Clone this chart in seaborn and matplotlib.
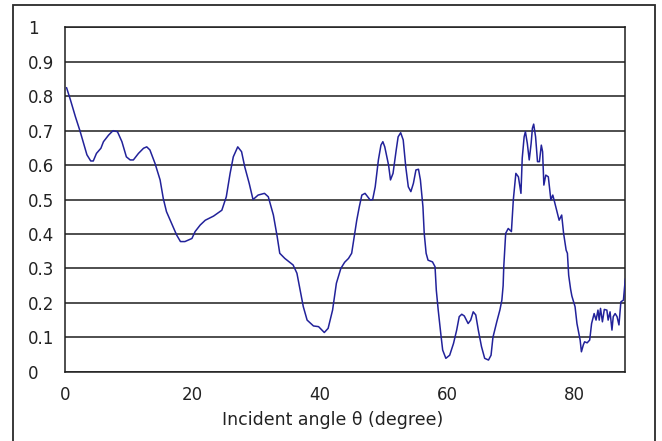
import numpy as np
import pandas as pd
import matplotlib
matplotlib.use("Agg")
import matplotlib.pyplot as plt
from matplotlib.patches import Rectangle
import seaborn as sns

# Reflectance versus incident angle
theta = [
    0.2, 0.8, 1.6, 2.3, 2.8, 3.4, 4.0, 4.4, 4.9, 5.6, 6.0, 6.8, 7.5, 8.2, 8.9,
    9.6, 10.2, 10.7, 11.5, 12.3, 12.8, 13.3, 14.1, 14.9, 15.4, 15.9, 16.7, 17.5,
    18.1, 18.8, 19.9, 20.4, 21.2, 22.0, 23.3, 24.6, 25.3, 25.9, 26.4, 27.1, 27.7,
    28.2, 28.9, 29.5, 30.3, 31.3, 31.9, 32.7, 33.3, 33.7, 34.5, 35.8, 36.4, 36.9,
    37.4, 38.0, 39.0, 39.8, 40.7, 41.3, 42.0, 42.6, 43.3, 43.9, 44.5, 45.0, 45.4,
    45.8, 46.2, 46.6, 47.1, 47.9, 48.3, 48.7, 49.2, 49.6, 49.9, 50.2, 50.8, 51.1,
    51.5, 52.0, 52.3, 52.7, 53.1, 53.5, 53.9, 54.3, 54.7, 55.1, 55.5, 55.8, 56.2,
    56.4, 56.7, 57.0, 57.7, 58.1, 58.3, 58.6, 59.0, 59.3, 59.8, 60.4, 61.0, 61.5,
    61.9, 62.3, 62.7, 63.3, 63.7, 64.1, 64.5, 64.9, 65.4, 65.9, 66.5, 66.9, 67.2,
    67.8, 68.3, 68.6, 68.8, 68.9, 69.2, 69.6, 70.1, 70.4, 70.8, 71.2, 71.6, 71.8,
    72.1, 72.3, 72.6, 72.9, 73.2, 73.4, 73.6, 73.9, 74.2, 74.5, 74.8, 75.0, 75.2,
    75.5, 75.9, 76.3, 76.6, 76.8, 77.2, 77.6, 78.0, 78.3, 78.7, 78.9, 79.1, 79.4,
    79.6, 80.1, 80.4, 80.9, 81.1, 81.4, 81.6, 82.0, 82.4, 82.7, 83.1, 83.4, 83.7,
    83.9, 84.1, 84.4, 84.7, 85.1, 85.3, 85.6, 85.9, 86.1, 86.4, 86.7, 87.0, 87.3,
    87.7, 88.0,
]
reflectance = [
    0.825, 0.790, 0.740, 0.700, 0.668, 0.630, 0.612, 0.612, 0.634, 0.649, 0.668,
    0.687, 0.700, 0.697, 0.668, 0.624, 0.615, 0.615, 0.634, 0.649, 0.653, 0.644,
    0.605, 0.557, 0.503, 0.465, 0.431, 0.397, 0.378, 0.378, 0.387, 0.407, 0.426,
    0.440, 0.452, 0.469, 0.508, 0.576, 0.624, 0.653, 0.639, 0.595, 0.547, 0.500,
    0.513, 0.518, 0.508, 0.455, 0.392, 0.344, 0.329, 0.310, 0.286, 0.237, 0.189,
    0.150, 0.133, 0.131, 0.114, 0.126, 0.179, 0.257, 0.300, 0.318, 0.329, 0.344,
    0.392, 0.440, 0.479, 0.513, 0.518, 0.499, 0.500, 0.537, 0.615, 0.658, 0.668,
    0.653, 0.600, 0.557, 0.576, 0.644, 0.682, 0.694, 0.673, 0.595, 0.537, 0.523,
    0.547, 0.586, 0.588, 0.557, 0.479, 0.402, 0.344, 0.324, 0.319, 0.305, 0.237,
    0.179, 0.111, 0.063, 0.039, 0.048, 0.082, 0.121, 0.160, 0.167, 0.162, 0.140,
    0.150, 0.174, 0.165, 0.121, 0.073, 0.039, 0.034, 0.048, 0.100, 0.145, 0.180,
    0.208, 0.250, 0.305, 0.402, 0.416, 0.407, 0.499, 0.576, 0.566, 0.518, 0.620,
    0.682, 0.697, 0.663, 0.615, 0.663, 0.707, 0.719, 0.682, 0.610, 0.610, 0.658,
    0.639, 0.542, 0.571, 0.566, 0.499, 0.513, 0.499, 0.469, 0.440, 0.455, 0.402,
    0.353, 0.344, 0.280, 0.240, 0.220, 0.189, 0.140, 0.092, 0.058, 0.078, 0.087,
    0.084, 0.092, 0.140, 0.169, 0.150, 0.179, 0.150, 0.184, 0.145, 0.181, 0.179,
    0.150, 0.174, 0.121, 0.160, 0.169, 0.160, 0.136, 0.203, 0.208, 0.270,
]

y_ticks = [0, 0.1, 0.2, 0.3, 0.4, 0.5, 0.6, 0.7, 0.8, 0.9, 1]
y_tick_labels = ["0", "0.1", "0.2", "0.3", "0.4", "0.5", "0.6", "0.7", "0.8", "0.9", "1"]
x_ticks = [0, 20, 40, 60, 80]
x_tick_labels = ["0", "20", "40", "60", "80"]
x_label = "Incident angle θ (degree)"

df = pd.DataFrame({"theta": theta, "reflectance": reflectance})

sns.set_theme(style="white")
plt.rcParams["font.family"] = ["DejaVu Sans"]

fig = plt.figure(figsize=(6.62, 4.41), dpi=100)
fig.patch.set_facecolor("white")
ax = fig.add_axes([0.0986, 0.157, 0.846, 0.781])

for yv in y_ticks:
    ax.axhline(yv, color="#1e1e1e", lw=1.1, zorder=1)

sns.lineplot(data=df, x="theta", y="reflectance", ax=ax, sort=False,
             estimator=None, color="#22229a", lw=1.1, zorder=3)

ax.set_xlim(0, 88)
ax.set_ylim(0, 1)
ax.set_xticks(x_ticks, x_tick_labels)
ax.set_yticks(y_ticks, y_tick_labels)
for lbl in ax.get_yticklabels():
    lbl.set_horizontalalignment("left")
ax.tick_params(axis="y", length=0, pad=27, labelsize=12, colors="#222222")
ax.tick_params(axis="x", direction="in", length=4, width=1.1, pad=10.5,
               labelsize=12, colors="#222222")
ax.set_xlabel(x_label, fontsize=12.5, color="#222222")
ax.set_ylabel("")
ax.xaxis.set_label_coords(0.478, -0.115)

for side in ["left", "right", "bottom", "top"]:
    ax.spines[side].set_visible(True)
    ax.spines[side].set_color("#1e1e1e")
    ax.spines[side].set_linewidth(1.1)

# outer frame around the whole chart
frame = Rectangle((0.0192, -0.05), 0.9702, 1.0387, transform=fig.transFigure,
                  fill=False, edgecolor="#2a2a2a", lw=1.3, clip_on=False)
fig.patches.append(frame)

fig.savefig("out.png", dpi=100, facecolor="white")
